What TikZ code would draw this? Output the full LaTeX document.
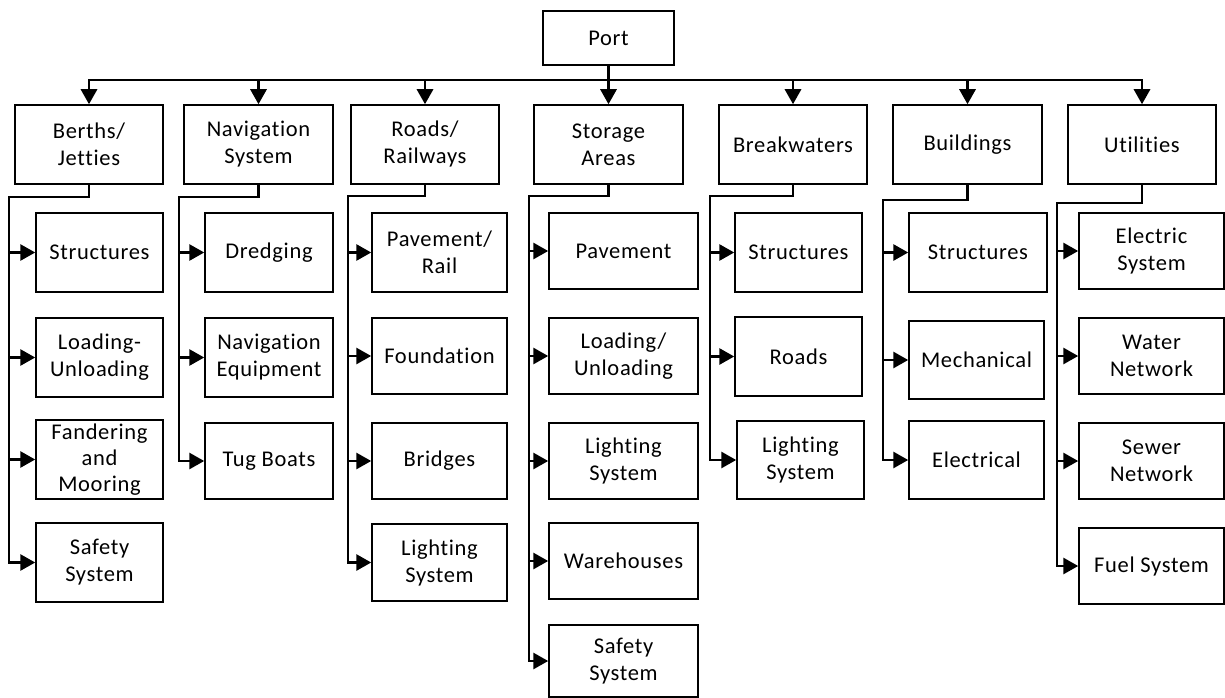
\documentclass[tikz,border=0pt]{standalone}
\usepackage{fontspec}
\setmainfont{Carlito}[RawFeature=-liga, LetterSpace=3]
\usetikzlibrary{arrows.meta}
\tikzset{
  box/.style={draw, line width=1.5pt, rectangle, inner sep=0pt, align=center, font=\fontsize{22.5}{27}\selectfont},
  conn/.style={line width=2.9pt, line join=miter, line cap=rect},
  arr/.style={line width=2.9pt, line cap=rect, -{Triangle[length=15pt,width=16pt]}},
}
\newcommand{\bx}[6]{\node[box, minimum width=#4pt, minimum height=#5pt] (#1) at (#2,#3) {#6};}
\begin{document}
\begin{tikzpicture}[x=1pt,y=-1pt]
\useasboundingbox (0,0) rectangle (1225,698);
% top
\bx{port}{608.5}{38}{131}{54}{Port}
\bx{berths}{89}{144.5}{148}{79}{Berths/\\Jetties}
\bx{nav}{258.5}{144.5}{149}{79}{Navigation\\System}
\bx{roads}{425}{144.5}{148}{79}{Roads/\\Railways}
\bx{stor}{608.5}{144.5}{149}{79}{Storage\\Areas}
\bx{brk}{793}{144.5}{148}{79}{Breakwaters}
\bx{bld}{967.5}{144.5}{149}{79}{Buildings}
\bx{utl}{1142}{144.5}{148}{79}{Utilities}
% berths children
\bx{b1}{99.5}{252.5}{127}{79}{Structures}
\bx{b2}{99.5}{357.5}{127}{79}{Loading-\\Unloading}
\node[box, minimum width=127pt, minimum height=79pt, font=\fontsize{22.5}{26}\selectfont] (b3) at (99.5,459.5) {Fandering\\and\\Mooring};
\bx{b4}{99.5}{562.5}{127}{79}{Safety\\System}
% navigation children
\bx{n1}{269}{252.5}{128}{79}{Dredging}
\bx{n2}{269}{357.5}{128}{79}{Navigation\\Equipment}
\bx{n3}{269}{461}{128}{76}{Tug Boats}
% roads children
\bx{r1}{439.5}{252.5}{135}{79}{Pavement/\\Rail}
\bx{r2}{439.5}{356}{135}{76}{Foundation}
\bx{r3}{439.5}{461}{135}{76}{Bridges}
\bx{r4}{439.5}{562.5}{135}{77}{Lighting\\System}
% storage children
\bx{s1}{623.5}{251}{149}{76}{Pavement}
\bx{s2}{623.5}{356}{149}{76}{Loading/\\Unloading}
\bx{s3}{623.5}{461}{149}{76}{Lighting\\System}
\bx{s4}{623.5}{561}{149}{76}{Warehouses}
\bx{s5}{623.5}{661}{149}{72}{Safety\\System}
% breakwaters children
\bx{k1}{798.5}{252.5}{127}{79}{Structures}
\bx{k2}{798.5}{356.5}{127}{79}{Roads}
\bx{k3}{800.5}{460}{127}{78}{Lighting\\System}
% buildings children
\bx{d1}{978}{252.5}{138}{79}{Structures}
\bx{d2}{976.5}{360}{135}{78}{Mechanical}
\bx{d3}{976.5}{460}{135}{78}{Electrical}
% utilities children
\bx{u1}{1151.5}{251}{145}{76}{Electric\\System}
\bx{u2}{1151.5}{356}{145}{76}{Water\\Network}
\bx{u3}{1151.5}{461}{145}{76}{Sewer\\Network}
\bx{u4}{1151.5}{566}{145}{76}{Fuel System}
% bus
\coordinate (busL) at (89,80);
\coordinate (busR) at (1142,80);
\draw[conn] (port.south) -- (port.south |- busL);
\draw[conn] (busL) -- (busR);
\foreach \n in {berths,nav,roads,stor,brk,bld,utl}{
  \draw[arr] (\n.north |- busL) -- (\n.north);
}
% column trunks
\coordinate (bv) at (9,197);
\coordinate (nv) at (179,197);
\coordinate (rv) at (348,196);
\coordinate (sv) at (529,196);
\coordinate (kv) at (710,196);
\coordinate (dv) at (883,200);
\coordinate (uv) at (1057,203);
\draw[conn] (berths.south) |- (bv) -- (bv |- b4.west);
\draw[conn] (nav.south) |- (nv) -- (nv |- n3.west);
\draw[conn] (roads.south) |- (rv) -- (rv |- r4.west);
\draw[conn] (stor.south) |- (sv) -- (sv |- s5.west);
\draw[conn] (brk.south) |- (kv) -- (kv |- k3.west);
\draw[conn] (bld.south) |- (dv) -- (dv |- d3.west);
\draw[conn] (utl.south) |- (uv) -- (uv |- u4.west);
\foreach \c in {b1,b2,b3,b4}{\draw[arr] (bv |- \c.west) -- (\c.west);}
\foreach \c in {n1,n2,n3}{\draw[arr] (nv |- \c.west) -- (\c.west);}
\foreach \c in {r1,r2,r3,r4}{\draw[arr] (rv |- \c.west) -- (\c.west);}
\foreach \c in {s1,s2,s3,s4,s5}{\draw[arr] (sv |- \c.west) -- (\c.west);}
\foreach \c in {k1,k2,k3}{\draw[arr] (kv |- \c.west) -- (\c.west);}
\foreach \c in {d1,d2,d3}{\draw[arr] (dv |- \c.west) -- (\c.west);}
\foreach \c in {u1,u2,u3,u4}{\draw[arr] (uv |- \c.west) -- (\c.west);}
\end{tikzpicture}
\end{document}
